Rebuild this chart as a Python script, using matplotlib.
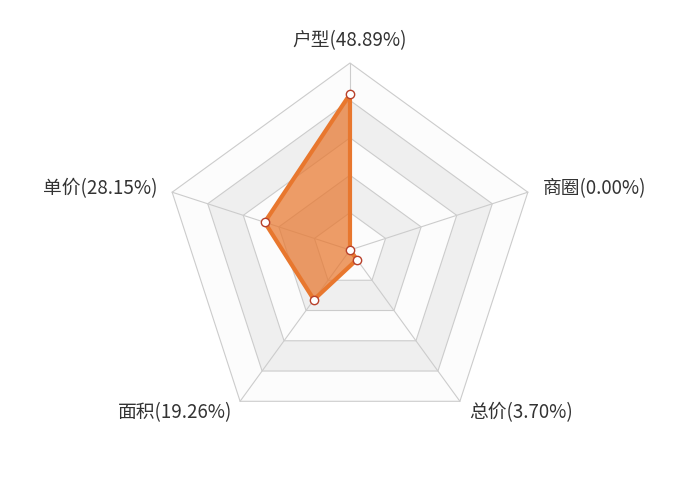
import numpy as np
import matplotlib
matplotlib.use('Agg')
import matplotlib.pyplot as plt
from matplotlib.patches import Polygon

plt.rcParams['font.family'] = ['Noto Sans CJK SC', 'DejaVu Sans']

labels = ['户型', '商圈', '总价', '面积', '单价']
values = [48.89, 0.00, 3.70, 19.26, 28.15]
max_value = max(values) * 1.2

n = len(labels)
angles = np.pi / 2 - np.arange(n) * 2 * np.pi / n

fig = plt.figure(figsize=(7, 5), dpi=100)
ax = fig.add_axes([0, 0, 1, 1])
R = 187.0
ax.set_xlim(-350 / R, 350 / R)
ax.set_ylim(-250 / R, 250 / R)
ax.axis('off')

# split areas, outer to inner
area_colors = ['#fcfcfc', '#efefef']
for k in range(5, 0, -1):
    r = k / 5
    pts = np.column_stack([r * np.cos(angles), r * np.sin(angles)])
    ax.add_patch(Polygon(pts, closed=True, facecolor=area_colors[(k - 1) % 2],
                         edgecolor='#cccccc', lw=0.8, zorder=1))

for a in angles:
    ax.plot([0, np.cos(a)], [0, np.sin(a)], color='#cccccc', lw=0.8, zorder=2)

# data
r = np.array(values) / max_value
xs = r * np.cos(angles)
ys = r * np.sin(angles)
color = '#e8772e'
ax.add_patch(Polygon(np.column_stack([xs, ys]), closed=True, facecolor=color,
                     alpha=0.72, edgecolor='none', zorder=3))
ax.plot(np.append(xs, xs[0]), np.append(ys, ys[0]), color=color, lw=3,
        solid_joinstyle='round', zorder=4)
ax.scatter(xs, ys, s=36, facecolor='white', edgecolor='#b8402a', lw=1, zorder=5)

# axis names
names = ['%s(%.2f%%)' % (l, v) for l, v in zip(labels, values)]
pos = [(0, 1.12, 'center'), (1.03, 0.33, 'left'), (0.64, -0.87, 'left'),
       (-0.63, -0.87, 'right'), (-1.03, 0.33, 'right')]
for name, (x, y, ha) in zip(names, pos):
    ax.text(x, y, name, ha=ha, va='center', fontsize=13.5, color='#333333')

fig.savefig('out.png', dpi=100)
